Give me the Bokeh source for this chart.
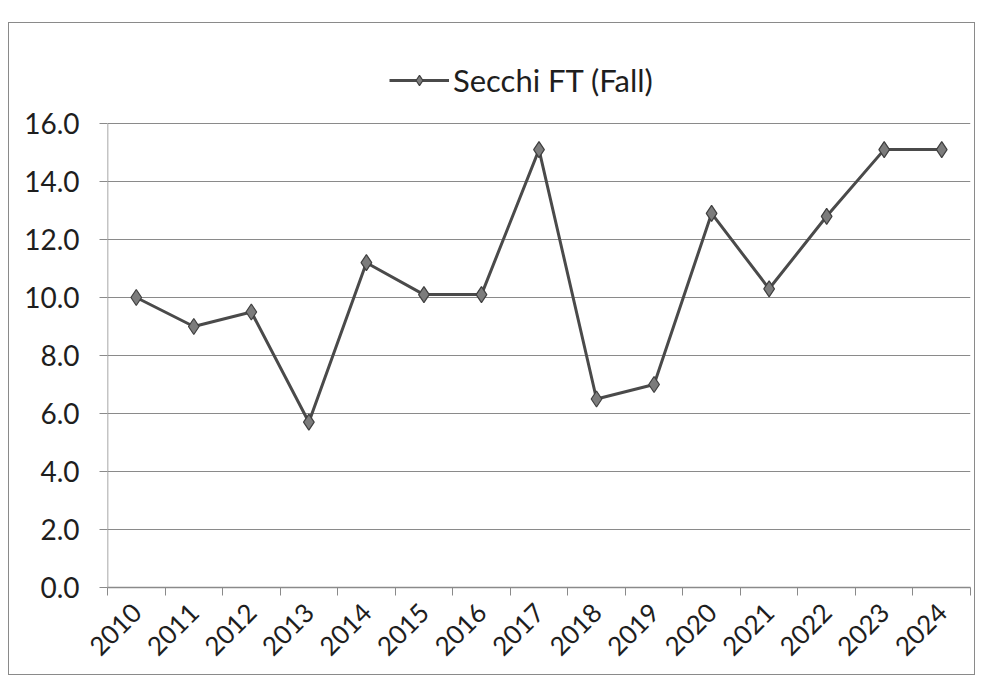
from bokeh.plotting import figure
from bokeh.models import FixedTicker, Legend, LegendItem, Range1d, NumeralTickFormatter
from bokeh.embed import file_html
from bokeh.resources import INLINE
from math import pi

years = ["2010", "2011", "2012", "2013", "2014", "2015", "2016", "2017",
         "2018", "2019", "2020", "2021", "2022", "2023", "2024"]
secchi_ft_fall = [10.0, 9.0, 9.5, 5.7, 11.2, 10.1, 10.1, 15.1,
                  6.5, 7.0, 12.9, 10.3, 12.8, 15.1, 15.1]
y_ticks = [0, 2, 4, 6, 8, 10, 12, 14, 16]
series_name = "Secchi FT (Fall)"

FONT = "Lato"
GRID = "#8a8a8a"
xs = list(range(len(years)))
y_max = y_ticks[-1]
# frame extends above the top gridline to leave room for the legend (Excel-style plot area)
y_top = y_max + 2.414

p = figure(width=967, height=653, output_backend="svg", toolbar_location=None,
           x_range=Range1d(-0.5, len(years) - 0.5), y_range=Range1d(0, y_top),
           min_border_left=98, min_border_right=6, min_border_top=30, min_border_bottom=89)
p.styles = {"position": "absolute", "left": "8px", "top": "22px",
            "border": "1px solid #8a8a8a"}
p.outline_line_color = None
p.background_fill_color = "white"
p.border_fill_color = "white"

# y axis line drawn only over the value span (0..max), like Excel
p.segment(x0=[-0.5], y0=[0], x1=[-0.5], y1=[y_max], line_color=GRID, line_width=1.5)

ln = p.line(xs, secchi_ft_fall, line_color="#4a4a4a", line_width=3)
mk = p.scatter(xs, secchi_ft_fall, marker="diamond", size=16,
               fill_color="#7c7c7c", line_color="#3f3f3f", line_width=1.2)

p.xaxis.ticker = FixedTicker(ticks=xs, minor_ticks=[i - 0.5 for i in range(len(years) + 1)])
p.xaxis.major_label_overrides = {i: y for i, y in enumerate(years)}
p.xaxis.major_tick_out = 0
p.xaxis.major_tick_in = 0
p.xaxis.minor_tick_out = 8
p.xaxis.minor_tick_in = 0
p.xaxis.minor_tick_line_color = GRID
p.xaxis.major_label_orientation = pi / 4
p.xaxis.major_label_standoff = 12
p.xaxis.axis_line_color = GRID
p.xaxis.axis_line_width = 1.5
p.xgrid.grid_line_color = None

p.yaxis.ticker = FixedTicker(ticks=y_ticks)
p.yaxis.formatter = NumeralTickFormatter(format="0.0")
p.yaxis.major_tick_out = 8
p.yaxis.major_tick_in = 0
p.yaxis.minor_tick_line_color = None
p.yaxis.major_tick_line_color = GRID
p.yaxis.axis_line_color = None
p.yaxis.major_label_standoff = 20
p.ygrid.ticker = FixedTicker(ticks=y_ticks)
p.ygrid.grid_line_color = GRID
p.ygrid.grid_line_width = 1.2

p.yaxis.major_label_text_font_size = "28px"
p.xaxis.major_label_text_font_size = "26px"
for ax in (p.xaxis, p.yaxis):
    ax.major_label_text_font = FONT
    ax.major_label_text_color = "#1e1e1e"

legend = Legend(items=[LegendItem(label=series_name, renderers=[ln, mk])],
                location=(282, 488), orientation="horizontal",
                label_text_font=FONT, label_text_font_size="31px",
                label_text_color="#1e1e1e", glyph_width=60, glyph_height=26,
                border_line_color=None, background_fill_alpha=0,
                padding=2, margin=0, spacing=0, label_standoff=4)
p.add_layout(legend)

open("out.html", "w").write(file_html(p, INLINE))
